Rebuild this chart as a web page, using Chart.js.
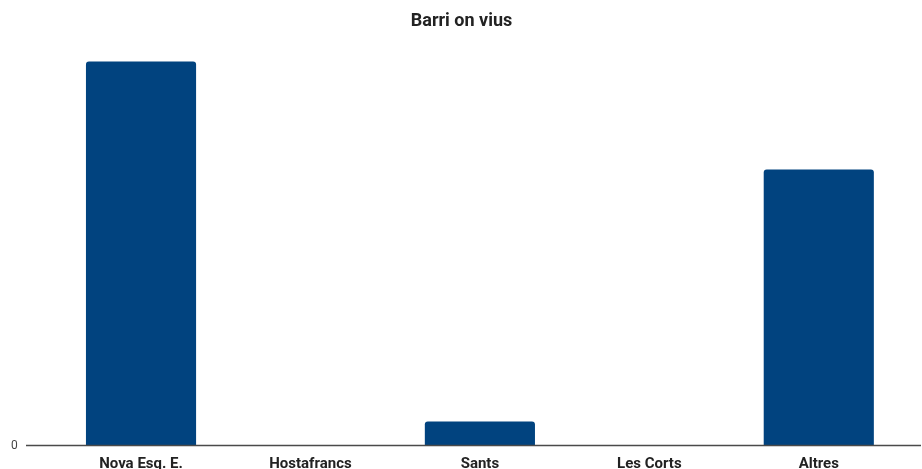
<!DOCTYPE html>
<html>
<head>
<meta charset="utf-8">
<script src="https://cdn.jsdelivr.net/npm/chart.js@4"></script>
<style>
  html, body { margin: 0; padding: 0; background: #ffffff; overflow: hidden; }
  canvas { display: block; }
</style>
</head>
<body>
<canvas id="barriChart" width="922" height="469"></canvas>
<script>
// Dades del gràfic
const barris = ["Nova Esq. E.", "Hostafrancs", "Sants", "Les Corts", "Altres"];
const vius = [32, 0, 2, 0, 23];
const yTicks = [0];
const yMax = 33.24;

// Línia base que sobresurt de l'àrea del gràfic
const baseLine = {
  id: "baseLine",
  afterDatasetsDraw(chart) {
    const ctx = chart.ctx;
    const y = chart.scales.y.getPixelForValue(0);
    ctx.save();
    ctx.strokeStyle = "#4a4a4a";
    ctx.lineWidth = 1.5;
    ctx.beginPath();
    ctx.moveTo(26, y);
    ctx.lineTo(chart.width - 1, y);
    ctx.stroke();
    ctx.restore();
  },
};

const ctx = document.getElementById("barriChart").getContext("2d");
new Chart(ctx, {
  type: "bar",
  data: {
    labels: barris,
    datasets: [
      {
        label: "Barri on vius",
        data: vius,
        backgroundColor: "#01437f",
        borderRadius: { topLeft: 3, topRight: 3 },
        borderSkipped: "bottom",
        categoryPercentage: 0.65,
        barPercentage: 1,
      },
    ],
  },
  options: {
    responsive: false,
    animation: false,
    devicePixelRatio: 1,
    layout: { padding: { left: 11, right: 10, top: 0, bottom: 0 } },
    plugins: {
      legend: { display: false },
      tooltip: { enabled: false },
      title: {
        display: true,
        text: "Barri on vius",
        color: "#222222",
        font: { family: "Roboto", size: 18, weight: "bold" },
        padding: { top: 11, bottom: 14 },
      },
    },
    scales: {
      x: {
        grid: { display: false, drawTicks: false },
        border: { display: false },
        afterFit: (scale) => {
          scale.height = 23.5;
        },
        ticks: {
          color: "#222222",
          padding: 9.5,
          maxRotation: 0,
          font: { family: "Roboto", size: 15, weight: "bold" },
        },
      },
      y: {
        min: 0,
        max: yMax,
        grid: { display: false, drawTicks: false },
        border: { display: false },
        afterBuildTicks: (scale) => {
          scale.ticks = yTicks.map((v) => ({ value: v }));
        },
        afterFit: (scale) => {
          scale.width = 45.3;
        },
        ticks: {
          color: "#444444",
          padding: 2,
          crossAlign: "far",
          font: { family: "Roboto", size: 12 },
        },
      },
      // eix buit a la dreta per deixar marge
      yRight: {
        position: "right",
        display: true,
        grid: { display: false, drawTicks: false },
        border: { display: false },
        ticks: { display: false },
        afterFit: (scale) => {
          scale.width = 8.5;
        },
      },
    },
  },
  plugins: [baseLine],
});
</script>
</body>
</html>
